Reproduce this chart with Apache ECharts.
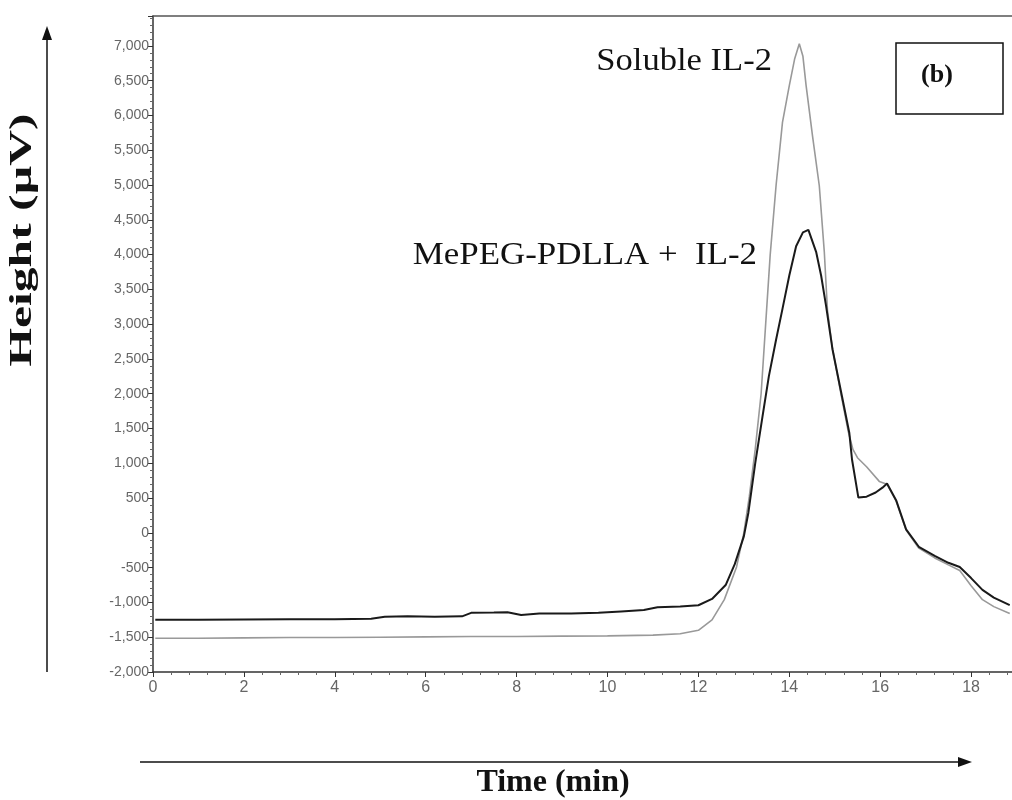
<!DOCTYPE html>
<html>
<head>
<meta charset="utf-8">
<script src="https://cdn.jsdelivr.net/npm/echarts@6/dist/echarts.min.js"></script>
<style>html,body{margin:0;padding:0;background:#fff}#c{width:1012px;height:800px}</style>
</head>
<body>
<div id="c"></div>
<script>
// ---- data ----
var solubleTime = [0.05,1,2,3,4,5,6,7,8,9,10,11,11.6,12,12.3,12.57,12.84,13.0,13.12,13.25,13.38,13.48,13.58,13.71,13.85,14.0,14.12,14.22,14.3,14.37,14.51,14.66,14.77,14.84,14.95,15.15,15.3,15.4,15.5,15.7,15.98,16.15,16.35,16.57,16.85,17.2,17.5,17.75,18.0,18.25,18.5,18.85];
var solubleVal  = [-1515,-1515,-1510,-1505,-1505,-1500,-1495,-1490,-1490,-1485,-1480,-1470,-1450,-1400,-1250,-960,-490,0,520,1200,2000,3000,4000,5000,5900,6430,6820,7030,6850,6430,5710,4990,4040,3200,2650,1950,1450,1200,1080,950,740,700,460,40,-220,-360,-460,-540,-760,-960,-1060,-1160];

var mepegTime = [0.05,1,2,3,4,4.8,5.1,5.6,6.2,6.8,7.0,7.5,7.8,8.1,8.5,9.2,9.8,10.3,10.8,11.1,11.6,12.0,12.3,12.6,12.8,13.0,13.1,13.25,13.41,13.55,13.71,13.85,14.0,14.15,14.3,14.42,14.59,14.7,14.81,14.95,15.16,15.32,15.38,15.52,15.7,15.9,16.05,16.15,16.35,16.57,16.85,17.2,17.5,17.75,18.0,18.25,18.5,18.85];
var mepegVal  = [-1250,-1248,-1245,-1242,-1240,-1235,-1205,-1200,-1205,-1200,-1150,-1145,-1140,-1180,-1160,-1160,-1150,-1130,-1110,-1070,-1060,-1040,-950,-750,-450,-50,290,1000,1670,2250,2780,3220,3700,4120,4320,4355,4040,3700,3260,2640,1960,1440,1055,507,520,580,650,710,470,50,-200,-330,-430,-490,-650,-820,-930,-1040];

var yTicks = {min: -2000, max: 7430, step: 500};
var xTicks = {min: 0, max: 18.9, step: 2};

function zip(t, v) { return t.map(function (x, i) { return [x, v[i]]; }); }

var chart = echarts.init(document.getElementById('c'), null, {renderer: 'canvas'});
var serif = '"Liberation Serif","Times New Roman",serif';
var sans = '"Liberation Sans",Arial,sans-serif';

chart.setOption({
  animation: false,
  backgroundColor: '#ffffff',
  grid: {left: 153, right: 0, top: 16, bottom: 128, containLabel: false},
  xAxis: [{
    type: 'value', min: xTicks.min, max: xTicks.max, interval: xTicks.step,
    axisLine: {show: true, onZero: false, lineStyle: {color: '#333', width: 1.5}},
    axisTick: {show: true, inside: false, length: 5, lineStyle: {color: '#333'}},
    minorTick: {show: true, splitNumber: 5, length: 3, lineStyle: {color: '#666'}},
    splitLine: {show: false},
    axisLabel: {showMaxLabel: false, color: '#666', fontFamily: sans, fontSize: 16, margin: 8}
  }, {
    type: 'value', position: 'top', min: xTicks.min, max: xTicks.max,
    axisLine: {show: true, onZero: false, lineStyle: {color: '#555', width: 1.5}},
    axisTick: {show: false}, axisLabel: {show: false}, splitLine: {show: false}
  }],
  yAxis: {
    type: 'value', min: yTicks.min, max: yTicks.max, interval: yTicks.step,
    axisLine: {show: true, onZero: false, lineStyle: {color: '#333', width: 1.5}},
    axisTick: {show: true, length: 5, lineStyle: {color: '#333'}},
    minorTick: {show: true, splitNumber: 5, length: 3, lineStyle: {color: '#666'}},
    splitLine: {show: false},
    axisLabel: {showMaxLabel: false, color: '#666', fontFamily: sans, fontSize: 14, margin: 4,
      formatter: function (v) { return v.toLocaleString('en-US'); }}
  },
  series: [{
    name: 'Soluble IL-2', type: 'line', showSymbol: false, xAxisIndex: 0,
    data: zip(solubleTime, solubleVal),
    lineStyle: {color: '#999', width: 1.6}
  }, {
    name: 'MePEG-PDLLA + IL-2', type: 'line', showSymbol: false, xAxisIndex: 0,
    data: zip(mepegTime, mepegVal),
    lineStyle: {color: '#1a1a1a', width: 2}
  }],
  graphic: [
    {type: 'text', x: 772, y: 62, scaleX: 1.08, style: {text: 'Soluble IL-2', font: '32px ' + serif, fill: '#111', textAlign: 'right', textVerticalAlign: 'middle'}},
    {type: 'text', x: 757, y: 256, scaleX: 1.09, style: {text: 'MePEG-PDLLA +  IL-2', font: '32px ' + serif, fill: '#111', textAlign: 'right', textVerticalAlign: 'middle'}},
    {type: 'rect', shape: {x: 896, y: 43, width: 107, height: 71}, style: {fill: '#fff', stroke: '#111', lineWidth: 1.5}},
    {type: 'text', x: 937, y: 75, style: {text: '(b)', font: 'bold 26px ' + serif, fill: '#111', textAlign: 'center', textVerticalAlign: 'middle'}},
    {type: 'line', shape: {x1: 47, y1: 672, x2: 47, y2: 36}, style: {stroke: '#111', lineWidth: 1.5}},
    {type: 'polygon', shape: {points: [[47, 26], [42, 40], [52, 40]]}, style: {fill: '#111'}},
    {type: 'text', x: 23, y: 240, rotation: Math.PI / 2, scaleX: 1.6, style: {text: 'Height (\u00b5V)', font: 'bold 31px ' + serif, fill: '#111', textAlign: 'center', textVerticalAlign: 'middle'}},
    {type: 'line', shape: {x1: 140, y1: 762, x2: 960, y2: 762}, style: {stroke: '#111', lineWidth: 1.5}},
    {type: 'polygon', shape: {points: [[972, 762], [958, 757], [958, 767]]}, style: {fill: '#111'}},
    {type: 'text', x: 553, y: 783, style: {text: 'Time (min)', font: 'bold 32px ' + serif, fill: '#111', textAlign: 'center', textVerticalAlign: 'middle'}}
  ]
});
</script>
</body>
</html>
